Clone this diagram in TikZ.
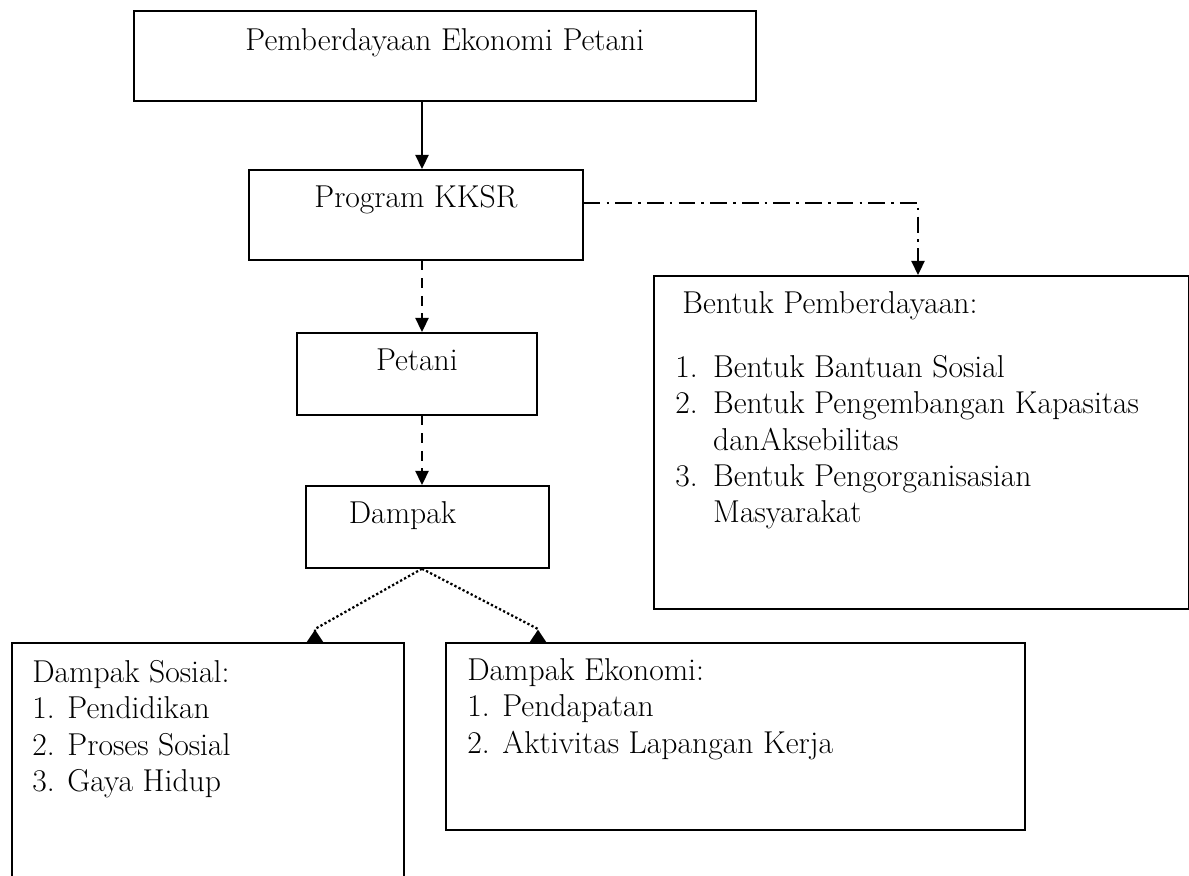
\documentclass[tikz,border=0pt]{standalone}
\usepackage{tikz}
\usetikzlibrary{arrows.meta}

\begin{document}
\begin{tikzpicture}[x=0.02cm, y=-0.02cm,
    font=\fontsize{18}{20.7}\selectfont,
    kotak/.style={draw, line width=1pt, inner sep=0pt, anchor=north west},
    teks/.style={inner sep=0pt, align=left, anchor=north west},
    panah/.style={line width=1pt, -{Triangle[length=8pt, width=7.5pt]}},
    putus/.style={panah, dash pattern=on 5.5pt off 4.5pt},
    garistitik/.style={panah, dash pattern=on 9.5pt off 3.5pt on 1.5pt off 3.5pt},
    titiktitik/.style={line width=1.3pt, dash pattern=on 1.3pt off 1.3pt,
      -{Triangle[reversed, length=7pt, width=9pt]}}]

  \useasboundingbox (0,0) rectangle (1189,875);

  \pgfmathsetmacro{\spinex}{422}
  \coordinate (spine) at (\spinex,0);

  % Boxes of the main column
  \node[kotak, minimum width=12.44cm, text height=0.8cm, text depth=1cm] (atas) at (133,10) {Pemberdayaan Ekonomi Petani};
  \node[kotak, minimum width=6.68cm, text height=0.76cm, text depth=1.04cm] (program) at (248,169) {Program KKSR};
  \node[kotak, minimum width=4.8cm, text height=0.76cm, text depth=0.88cm] (petani) at (296,332) {Petani};
  \node[kotak, align=left, inner xsep=0.86cm, text width=3.14cm, text height=0.76cm, text depth=0.88cm] (dampak) at (305,485) {Dampak};

  % Boxes of the results
  \node[kotak, minimum width=10.7cm, minimum height=6.66cm] (bentuk) at (653,275) {};
  \node[kotak, minimum width=7.84cm, minimum height=5cm] (sosial) at (11,642) {};
  \node[kotak, minimum width=11.58cm, minimum height=3.74cm] (ekonomi) at (445,642) {};

  % Texts inside the boxes
  \node[inner sep=0pt, anchor=base west] (bentukjudul) at (682,313) {Bentuk Pemberdayaan:};
  \node[teks] (bentukisi) at (675,355) {\makebox[21.5pt][l]{1.}Bentuk Bantuan Sosial\\
    \makebox[21.5pt][l]{2.}Bentuk Pengembangan Kapasitas\\
    \makebox[21.5pt][l]{}danAksebilitas\\
    \makebox[21.5pt][l]{3.}Bentuk Pengorganisasian\\
    \makebox[21.5pt][l]{}Masyarakat};
  \node[teks] (sosialisi) at (32,660) {Dampak Sosial:\\1. Pendidikan\\2. Proses Sosial\\3. Gaya Hidup};
  \node[teks] (ekonomiisi) at (467,658) {Dampak Ekonomi:\\1.\hspace{0.4em}Pendapatan\\2. Aktivitas Lapangan Kerja};

  % Connectors
  \draw[panah] (atas.south -| spine) -- (program.north -| spine);
  \draw[putus] (program.south -| spine) -- (petani.north -| spine);
  \draw[putus] (petani.south -| spine) -- (dampak.north -| spine);

  \coordinate (belok) at (918,203);
  \draw[garistitik] (program.east |- belok) -- (belok) -- (bentuk.north -| belok);

  \coordinate (sostip) at (315,642);
  \coordinate (ekotip) at (538,642);
  \draw[titiktitik] (dampak.south -| spine) -- ([yshift=0.26cm]sostip) -- (sostip);
  \draw[titiktitik] (dampak.south -| spine) -- ([yshift=0.26cm]ekotip) -- (ekotip);

\end{tikzpicture}
\end{document}
